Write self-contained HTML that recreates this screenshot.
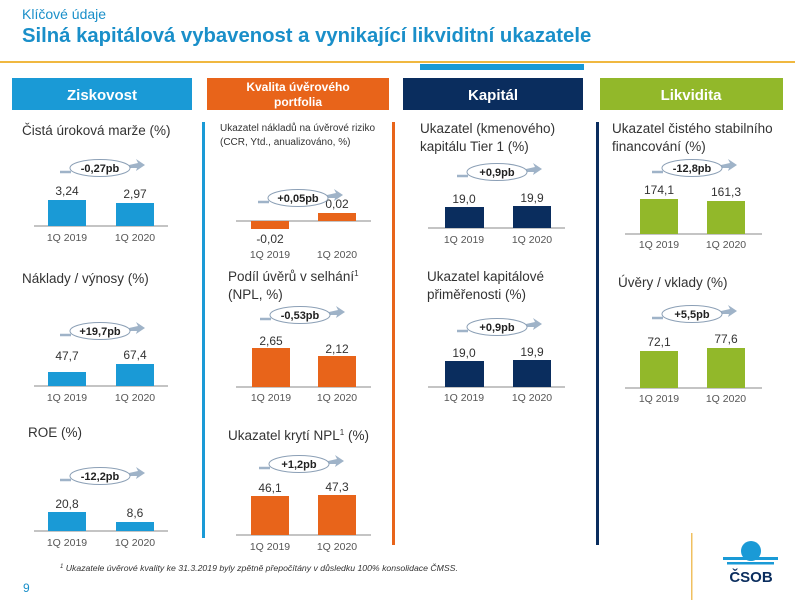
<!DOCTYPE html>
<html><head><meta charset="utf-8"><style>
body{margin:0;width:795px;height:600px;overflow:hidden;background:#fff;font-family:"Liberation Sans",sans-serif}
svg{display:block}
text{font-family:"Liberation Sans",sans-serif}
</style></head><body>
<svg width="795" height="600" viewBox="0 0 795 600" xmlns="http://www.w3.org/2000/svg">
<defs>
<g id="pill">
<path d="M-40 4 L-29 4" stroke="#9fb3c8" stroke-width="2.5"/>
<path d="M29 -3 L38 -5 L36 -9 L45 -3 L36 3 L37 0 L29 0 Z" fill="#9fb3c8"/>
<ellipse cx="0" cy="0" rx="30" ry="8.5" fill="#fff" stroke="#8ca0b6" stroke-width="1"/>
</g>
</defs>
<text x="22" y="19" font-size="14" fill="#1a8fc9">Klíčové údaje</text>
<text x="22" y="42" font-size="20.3" font-weight="bold" fill="#1a8fc9">Silná kapitálová vybavenost a vynikající likviditní ukazatele</text>
<rect x="0" y="61" width="795" height="2" fill="#f0b840"/>
<rect x="420" y="64" width="164" height="6" fill="#1a9ad6"/>
<rect x="12" y="78" width="180" height="32" fill="#1a9ad6"/>
<text x="102" y="100" font-size="15" font-weight="bold" fill="#fff" text-anchor="middle">Ziskovost</text>
<rect x="207" y="78" width="182" height="32" fill="#e8641a"/>
<text x="298" y="91" font-size="12" font-weight="bold" fill="#fff" text-anchor="middle">Kvalita úvěrového</text>
<text x="298" y="106" font-size="12" font-weight="bold" fill="#fff" text-anchor="middle">portfolia</text>
<rect x="403" y="78" width="180" height="32" fill="#0a2d5e"/>
<text x="493" y="100" font-size="15" font-weight="bold" fill="#fff" text-anchor="middle">Kapitál</text>
<rect x="600" y="78" width="183" height="32" fill="#92b82a"/>
<text x="691" y="100" font-size="15" font-weight="bold" fill="#fff" text-anchor="middle">Likvidita</text>
<rect x="202" y="122" width="3" height="416" fill="#1a9ad6"/>
<rect x="392" y="122" width="3" height="423" fill="#e8641a"/>
<rect x="596" y="122" width="3" height="423" fill="#0a2d5e"/>
<rect x="691" y="533" width="1.5" height="67" fill="#f0c060"/>

<g font-size="13.5" fill="#333">
<text x="22" y="135">Čistá úroková marže (%)</text>
<text x="22" y="283">Náklady / výnosy (%)</text>
<text x="28" y="437">ROE (%)</text>
<text x="220" y="131" font-size="10">Ukazatel nákladů na úvěrové riziko</text>
<text x="220" y="145" font-size="10">(CCR, Ytd., anualizováno, %)</text>
<text x="228" y="281">Podíl úvěrů v selhání<tspan font-size="8" dy="-5">1</tspan></text>
<text x="228" y="299">(NPL, %)</text>
<text x="228" y="440">Ukazatel krytí NPL<tspan font-size="8" dy="-5">1</tspan><tspan dy="5"> (%)</tspan></text>
<text x="420" y="133">Ukazatel (kmenového)</text>
<text x="420" y="151">kapitálu Tier 1 (%)</text>
<text x="427" y="281">Ukazatel kapitálové</text>
<text x="427" y="299">přiměřenosti (%)</text>
<text x="612" y="133">Ukazatel čistého stabilního</text>
<text x="612" y="151">financování (%)</text>
<text x="618" y="287">Úvěry / vklady (%)</text>
</g>

<g stroke="#888" stroke-width="1">
<line x1="34" y1="226" x2="168" y2="226"/><line x1="34" y1="386" x2="168" y2="386"/><line x1="34" y1="531" x2="168" y2="531"/>
<line x1="236" y1="221" x2="371" y2="221"/><line x1="236" y1="387" x2="371" y2="387"/><line x1="236" y1="535" x2="371" y2="535"/>
<line x1="428" y1="228" x2="565" y2="228"/><line x1="428" y1="387" x2="565" y2="387"/>
<line x1="625" y1="234" x2="762" y2="234"/><line x1="625" y1="388" x2="762" y2="388"/>
</g>
<g fill="#1a9ad6">
<rect x="48" y="200" width="38" height="26"/><rect x="116" y="203" width="38" height="23"/>
<rect x="48" y="372" width="38" height="14"/><rect x="116" y="364" width="38" height="22"/>
<rect x="48" y="512" width="38" height="19"/><rect x="116" y="522" width="38" height="9"/>
</g>
<g fill="#e8641a">
<rect x="251" y="221" width="38" height="8"/><rect x="318" y="213" width="38" height="8"/>
<rect x="252" y="348" width="38" height="39"/><rect x="318" y="356" width="38" height="31"/>
<rect x="251" y="496" width="38" height="39"/><rect x="318" y="495" width="38" height="40"/>
</g>
<g fill="#0a2d5e">
<rect x="445" y="207" width="39" height="21"/><rect x="513" y="206" width="38" height="22"/>
<rect x="445" y="361" width="39" height="26"/><rect x="513" y="360" width="38" height="27"/>
</g>
<g fill="#92b82a">
<rect x="640" y="199" width="38" height="35"/><rect x="707" y="201" width="38" height="33"/>
<rect x="640" y="351" width="38" height="37"/><rect x="707" y="348" width="38" height="40"/>
</g>

<g font-size="12" fill="#333" text-anchor="middle">
<text x="67" y="195">3,24</text><text x="135" y="198">2,97</text>
<text x="67" y="360">47,7</text><text x="135" y="359">67,4</text>
<text x="67" y="508">20,8</text><text x="135" y="517">8,6</text>
<text x="270" y="243">-0,02</text><text x="337" y="208">0,02</text>
<text x="271" y="345">2,65</text><text x="337" y="353">2,12</text>
<text x="270" y="492">46,1</text><text x="337" y="491">47,3</text>
<text x="464" y="203">19,0</text><text x="532" y="202">19,9</text>
<text x="464" y="357">19,0</text><text x="532" y="356">19,9</text>
<text x="659" y="194">174,1</text><text x="726" y="196">161,3</text>
<text x="659" y="346">72,1</text><text x="726" y="343">77,6</text>
</g>
<g font-size="10.5" fill="#555" text-anchor="middle">
<text x="67" y="241">1Q 2019</text><text x="135" y="241">1Q 2020</text>
<text x="67" y="401">1Q 2019</text><text x="135" y="401">1Q 2020</text>
<text x="67" y="546">1Q 2019</text><text x="135" y="546">1Q 2020</text>
<text x="270" y="258">1Q 2019</text><text x="337" y="258">1Q 2020</text>
<text x="271" y="401">1Q 2019</text><text x="337" y="401">1Q 2020</text>
<text x="270" y="550">1Q 2019</text><text x="337" y="550">1Q 2020</text>
<text x="464" y="243">1Q 2019</text><text x="532" y="243">1Q 2020</text>
<text x="464" y="401">1Q 2019</text><text x="532" y="401">1Q 2020</text>
<text x="659" y="248">1Q 2019</text><text x="726" y="248">1Q 2020</text>
<text x="659" y="402">1Q 2019</text><text x="726" y="402">1Q 2020</text>
</g>
<g font-size="11" font-weight="bold" fill="#222" text-anchor="middle">
<use href="#pill" x="100" y="168"/><text x="100" y="172">-0,27pb</text>
<use href="#pill" x="100" y="331"/><text x="100" y="335">+19,7pb</text>
<use href="#pill" x="100" y="476"/><text x="100" y="480">-12,2pb</text>
<use href="#pill" x="298" y="198"/><text x="298" y="202">+0,05pb</text>
<use href="#pill" x="300" y="315"/><text x="300" y="319">-0,53pb</text>
<use href="#pill" x="299" y="464"/><text x="299" y="468">+1,2pb</text>
<use href="#pill" x="497" y="172"/><text x="497" y="176">+0,9pb</text>
<use href="#pill" x="497" y="327"/><text x="497" y="331">+0,9pb</text>
<use href="#pill" x="692" y="168"/><text x="692" y="172">-12,8pb</text>
<use href="#pill" x="692" y="314"/><text x="692" y="318">+5,5pb</text>
</g>

<text x="60" y="571" font-size="8.7" font-style="italic" fill="#333"><tspan font-size="6" dy="-3">1</tspan><tspan dy="3"> Ukazatele úvěrové kvality ke 31.3.2019 byly zpětně přepočítány v důsledku 100% konsolidace ČMSS.</tspan></text>
<text x="23" y="592" font-size="12" fill="#1a8fc9">9</text>
<circle cx="751" cy="551" r="10" fill="#1a9ad6"/>
<rect x="723" y="557" width="55" height="3" fill="#1a9ad6"/>
<rect x="727" y="562" width="47" height="2.5" fill="#1a9ad6"/>
<text x="751" y="582" font-size="15" font-weight="bold" fill="#0a2d5e" text-anchor="middle">ČSOB</text>
</svg>
</body></html>
